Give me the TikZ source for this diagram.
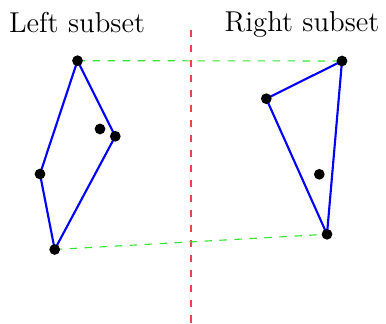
\documentclass[tikz,border=0pt]{standalone}
\definecolor{hullblue}{RGB}{0,0,255}
\definecolor{sepred}{RGB}{235,70,70}
\definecolor{bridgegreen}{RGB}{50,230,50}
\begin{document}
\begin{tikzpicture}[x=0.4pt,y=-0.4pt,
  pt/.style={circle,fill=black,inner sep=0pt,minimum size=4.3pt},
  hull/.style={draw=hullblue,line width=0.85pt,line join=round},
  bridge/.style={draw=bridgegreen,dashed,line width=0.45pt},
  sepline/.style={draw=sepred,dashed,line width=0.5pt},
  lbl/.style={anchor=base,font=\fontsize{11.5}{14}\selectfont,inner sep=0pt}]
\useasboundingbox (0,0) rectangle (386,324);
% split line
\coordinate (st) at (191,30);
\coordinate (sb) at (191,324);
\path[sepline] (st) -- (sb);
% points
\coordinate (a) at (77.5,60.7);
\coordinate (b) at (115.3,136.3);
\coordinate (c) at (100,129);
\coordinate (d) at (40,174);
\coordinate (e) at (54.7,249.5);
\coordinate (f) at (342,61);
\coordinate (g) at (266.3,98.7);
\coordinate (h) at (319.3,174.3);
\coordinate (i) at (327,234.3);
% bridges
\path[bridge] (a) -- (f);
\path[bridge] (e) -- (i);
% hulls
\path[hull] (a) -- (b) -- (e) -- (d) -- cycle;
\path[hull] (f) -- (g) -- (i) -- cycle;
% dots
\foreach \p in {a,b,c,d,e,f,g,h,i} \node[pt] (n\p) at (\p) {};
% labels
\node[lbl] (ll) at (77,33) {Left subset};
\node[lbl] (rl) at (302,32) {Right subset};
\end{tikzpicture}
\end{document}
